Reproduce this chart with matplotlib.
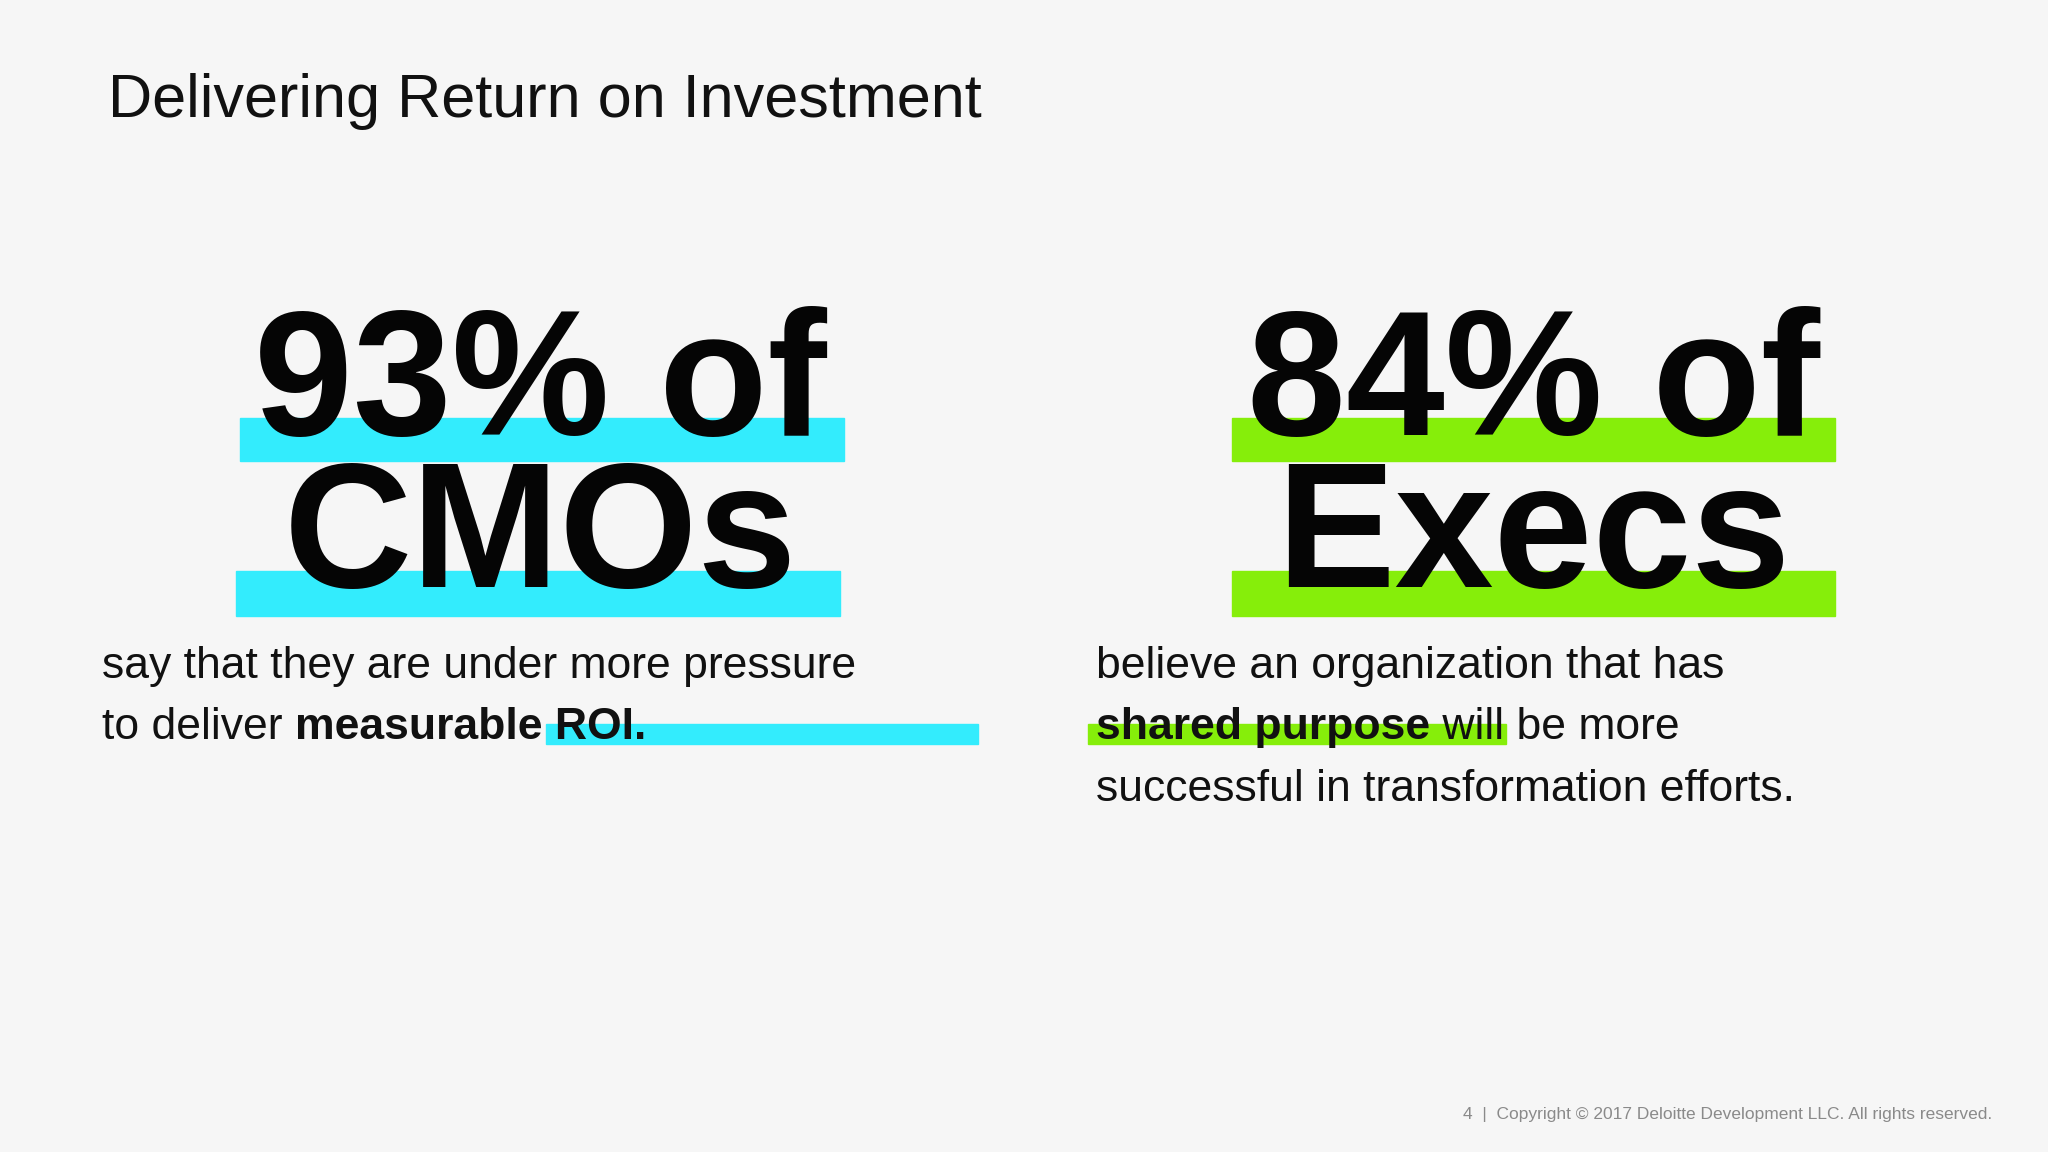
import matplotlib
matplotlib.use("Agg")
import matplotlib.pyplot as plt
from matplotlib.patches import Rectangle

title = "Delivering Return on Investment"
percentages = [93, 84]
groups = ["CMOs", "Execs"]
colors = ["#33ECFD", "#86EE0A"]
lines_left = [("say that they are under more pressure", ""), ("to deliver ", "measurable ROI.")]
lines_right = [("believe an organization that has", ""), ("", "shared purpose", " will be more"), ("successful in transformation efforts.", "")]
footer = "4  |  Copyright \u00a9 2017 Deloitte Development LLC. All rights reserved."

W, H = 1568, 882
fig = plt.figure(figsize=(20.48, 11.52), dpi=100, facecolor="#F6F6F6")
ax = fig.add_axes([0, 0, 1, 1])
ax.set_xlim(0, W); ax.set_ylim(H, 0); ax.axis("off")
F = "Liberation Sans"
S = 2048 / W  # display px -> actual px scale

ax.text(83, 78, title, fontsize=44, family=F, va="center", ha="left", color="#111111")

centers = [414, 1174]
bar_x = [(184, 646), (943, 1405)]
for i, (p, g) in enumerate(zip(percentages, groups)):
    x0, x1 = bar_x[i]
    ax.add_patch(Rectangle((x0, 320), x1 - x0, 33, color=colors[i], zorder=1))
    ax.add_patch(Rectangle((x0 - (3 if i == 0 else 0), 437), x1 - x0, 35, color=colors[i], zorder=1))
    ax.text(centers[i], 298, f"{p}% of", fontsize=128, family=F, weight="bold",
            ha="center", va="center", zorder=2, color="#050505")
    ax.text(centers[i], 414, g, fontsize=128, family=F, weight="bold",
            ha="center", va="center", zorder=2, color="#050505")

fig.canvas.draw()
r = fig.canvas.get_renderer()

def width(t):
    bb = t.get_window_extent(renderer=r)
    return bb.width / S

def line(x, y, parts, hl=None):
    cx = x
    for j, s in enumerate(parts):
        if not s:
            continue
        bold = (j == 1)
        t = ax.text(cx, y, s, fontsize=32, family=F, weight="bold" if bold else "normal",
                    ha="left", va="baseline", color="#111111", zorder=3)
        w = width(t)
        cx += w
    return cx

# highlights
ax.add_patch(Rectangle((418, 554), 331, 16, color=colors[0], zorder=1))
ax.add_patch(Rectangle((833, 554), 320, 16, color=colors[1], zorder=1))

line(78, 519, lines_left[0])
line(78, 566, lines_left[1])
line(839, 519, lines_right[0])
line(839, 566, lines_right[1])
line(839, 613, lines_right[2])

ax.text(1525, 853, footer, fontsize=12.5, family=F, color="#8a8a8a", ha="right", va="center")

fig.savefig("out.png", dpi=100, facecolor=fig.get_facecolor())
